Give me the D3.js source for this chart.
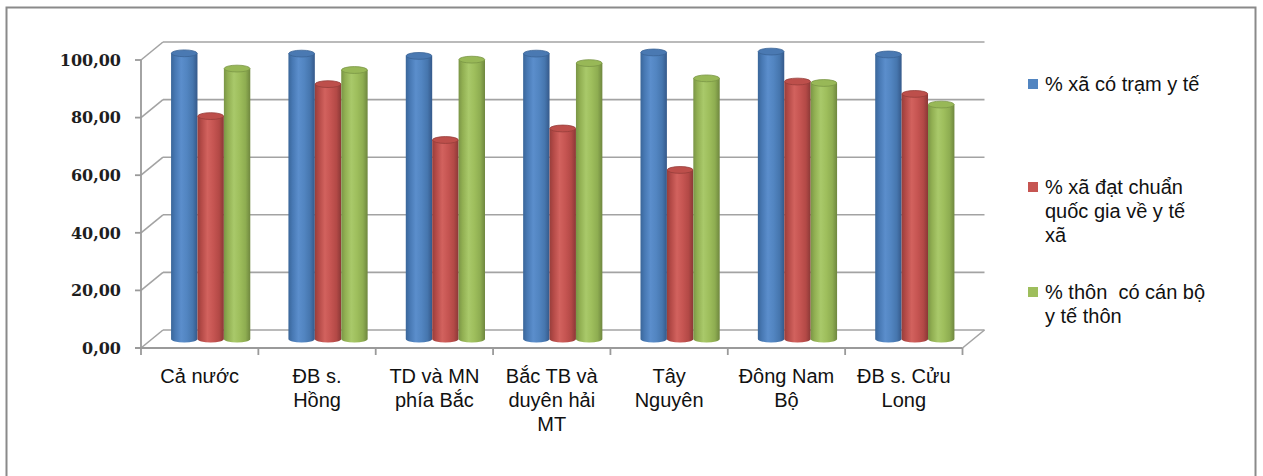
<!DOCTYPE html>
<html>
<head>
<meta charset="utf-8">
<script src="https://cdn.jsdelivr.net/npm/d3@7/dist/d3.min.js"></script>
<style>
  html, body { margin: 0; padding: 0; background: #fff; }
  svg { display: block; }
</style>
</head>
<body>
<svg id="chart" width="1263" height="476"></svg>
<script>
// Regions (line breaks follow the axis label wrapping)
const categories = [
  "Cả nước",
  "ĐB s.\nHồng",
  "TD và MN\nphía Bắc",
  "Bắc TB và\nduyên hải\nMT",
  "Tây\nNguyên",
  "Đông Nam\nBộ",
  "ĐB s. Cửu\nLong"
];

const seriesNames = [
  "% xã có trạm y tế",
  "% xã đạt chuẩn\nquốc gia về y tế\nxã",
  "% thôn  có cán bộ\ny tế thôn"
];

const xaCoTramYTe   = [99.2, 99.1, 98.3, 99.1, 99.5, 99.8, 98.8];
const xaDatChuanQG  = [77.4, 88.5, 69.1, 73.1, 58.7, 89.4, 85.1];
const thonCoCanBoYT = [93.9, 93.4, 97.0, 95.8, 90.5, 88.9, 81.4];

const yTicks = [0, 20, 40, 60, 80, 100];

const seriesValues = [xaCoTramYTe, xaDatChuanQG, thonCoCanBoYT];

const svg = d3.select("#chart");

// Outer chart frame
svg.append("rect")
  .attr("x", 6.5).attr("y", 7.5)
  .attr("width", 1249).attr("height", 490)
  .attr("fill", "#fff")
  .attr("stroke", "#8a8a8a")
  .attr("stroke-width", 2);

// Plot geometry: front face and depth offset of the 3D box
const plotLeft = 141, plotRight = 962.5, plotBottom = 348, plotTop = 60;
const depthX = 22, depthY = -18;

const x = d3.scaleBand().domain(d3.range(categories.length)).range([plotLeft, plotRight]).padding(0);
const y = d3.scaleLinear().domain([0, 100]).range([plotBottom, plotTop]);
const inner = d3.scaleBand().domain(d3.range(seriesValues.length))
  .range([0, x.bandwidth() * 0.675]);

const gridColor = "#a3a3a3";

// Back wall gridlines and left wall slants
const grid = svg.append("g");
yTicks.forEach(t => {
  const yy = y(t);
  grid.append("line")
    .attr("x1", plotLeft + depthX).attr("x2", plotRight + depthX)
    .attr("y1", yy + depthY).attr("y2", yy + depthY)
    .attr("stroke", gridColor).attr("stroke-width", 1.6);
  grid.append("line")
    .attr("x1", plotLeft).attr("x2", plotLeft + depthX)
    .attr("y1", yy).attr("y2", yy + depthY)
    .attr("stroke", gridColor).attr("stroke-width", 1.6);
});
// Floor right edge
grid.append("line")
  .attr("x1", plotRight).attr("y1", plotBottom)
  .attr("x2", plotRight + depthX).attr("y2", plotBottom + depthY)
  .attr("stroke", gridColor).attr("stroke-width", 1.6);

// Cylinder shading
const defs = svg.append("defs");
const palettes = [
  { stops: ["#3a6699", "#4778b3", "#5b8ecc", "#5285c1", "#4676ae", "#35598a"], top: "#4a79b2", rim: "#3a6396" },
  { stops: ["#973e3b", "#b44a47", "#d2625e", "#c65552", "#b34946", "#8a3836"], top: "#bd4f4b", rim: "#953d3a" },
  { stops: ["#7a9546", "#91af52", "#a9c96a", "#9ebe5c", "#8ead51", "#6f873f"], top: "#98b857", rim: "#7a9545" }
];
palettes.forEach((p, i) => {
  const g = defs.append("linearGradient").attr("id", "cyl" + i)
    .attr("x1", 0).attr("x2", 1).attr("y1", 0).attr("y2", 0);
  const offs = [0, 0.15, 0.38, 0.6, 0.82, 1];
  p.stops.forEach((c, k) => g.append("stop").attr("offset", offs[k]).attr("stop-color", c));
});

// Bars: cylinders placed at mid-depth
const ry = 3.4;
const bars = svg.append("g");
categories.forEach((c, ci) => {
  const groupW = inner.range()[1];
  const gx = x(ci) + (x.bandwidth() - groupW) / 2 + depthX / 2;
  seriesValues.forEach((vals, si) => {
    const v = vals[ci];
    const bw = inner.bandwidth();
    const bx = gx + inner(si);
    const cx = bx + bw / 2;
    const rx = bw / 2;
    const yTop = y(v) + depthY / 2;
    const yBot = y(0) + depthY / 2;
    const p = palettes[si];
    const path = `M${bx},${yTop} L${bx},${yBot} A${rx},${ry} 0 0 0 ${bx + bw},${yBot} L${bx + bw},${yTop} Z`;
    bars.append("path").attr("d", path).attr("fill", `url(#cyl${si})`);
    bars.append("ellipse")
      .attr("cx", cx).attr("cy", yTop).attr("rx", rx - 0.3).attr("ry", ry)
      .attr("fill", p.top).attr("stroke", p.rim).attr("stroke-width", 0.8);
  });
});

// Front axes
const axisColor = "#9a9a9a";
const ax = svg.append("g");
ax.append("line")
  .attr("x1", plotLeft).attr("x2", plotLeft).attr("y1", plotTop).attr("y2", plotBottom)
  .attr("stroke", axisColor).attr("stroke-width", 1.8);
ax.append("line")
  .attr("x1", plotLeft - 6).attr("x2", plotRight).attr("y1", plotBottom).attr("y2", plotBottom)
  .attr("stroke", axisColor).attr("stroke-width", 1.8);
yTicks.forEach(t => {
  ax.append("line")
    .attr("x1", plotLeft - 6).attr("x2", plotLeft).attr("y1", y(t)).attr("y2", y(t))
    .attr("stroke", axisColor).attr("stroke-width", 1.8);
  ax.append("text")
    .attr("x", 121).attr("y", y(t)).attr("dy", "0.36em")
    .attr("text-anchor", "end")
    .attr("font-family", "'DejaVu Serif', serif")
    .attr("font-weight", "bold")
    .attr("font-size", 16)
    .attr("fill", "#1e1e1e")
    .text(d3.format(".2f")(t).replace(".", ","));
});
d3.range(categories.length + 1).forEach(i => {
  const tx = i < categories.length ? x(i) : plotRight;
  ax.append("line")
    .attr("x1", tx).attr("x2", tx).attr("y1", plotBottom).attr("y2", plotBottom + 7)
    .attr("stroke", axisColor).attr("stroke-width", 1.8);
});

// Category labels
categories.forEach((c, ci) => {
  const t = svg.append("text")
    .attr("text-anchor", "middle")
    .attr("font-family", "'Liberation Sans', Arial, sans-serif")
    .attr("font-size", 20)
    .attr("fill", "#111");
  c.split("\n").forEach((line, li) => {
    t.append("tspan")
      .attr("x", x(ci) + x.bandwidth() / 2)
      .attr("y", 383 + li * 24)
      .text(line);
  });
});

// Legend
const legendY = [84, 187, 292];
seriesNames.forEach((name, si) => {
  svg.append("rect")
    .attr("x", 1028).attr("y", legendY[si] - 5)
    .attr("width", 10).attr("height", 10)
    .attr("fill", palettes[si].stops[3]);
  const t = svg.append("text")
    .attr("font-family", "'Liberation Sans', Arial, sans-serif")
    .attr("font-size", 20)
    .attr("fill", "#111")
    .attr("xml:space", "preserve");
  name.split("\n").forEach((line, li) => {
    t.append("tspan")
      .attr("x", 1045)
      .attr("y", legendY[si] + 6.5 + li * 24)
      .text(line);
  });
});
</script>
</body>
</html>
